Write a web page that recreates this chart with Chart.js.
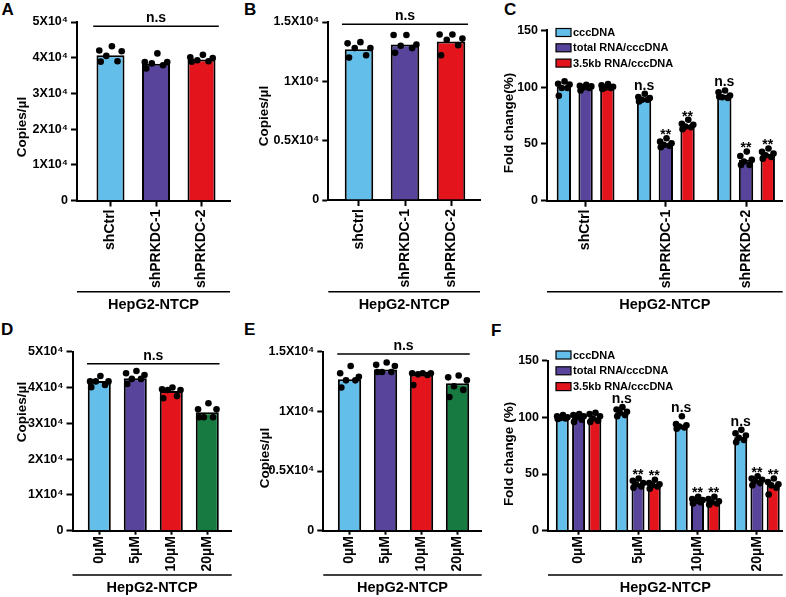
<!DOCTYPE html>
<html>
<head>
<meta charset="utf-8">
<title>HepG2-NTCP</title>
<script src="https://cdn.jsdelivr.net/npm/chart.js@4.4.1/dist/chart.umd.min.js"></script>
<style>
html,body{margin:0;padding:0;background:#fff;}
#fig{position:relative;width:786px;height:597px;overflow:hidden;background:#fff;}
#fig canvas{position:absolute;}
.pl{position:absolute;font:bold 17px "Liberation Sans",Arial,sans-serif;line-height:17px;color:#000;}
</style>
</head>
<body>
<div id="fig">
  <div class="pl" style="left:1.5px;top:1px">A</div>
  <div class="pl" style="left:244px;top:1px">B</div>
  <div class="pl" style="left:504px;top:1px">C</div>
  <div class="pl" style="left:1px;top:321px">D</div>
  <div class="pl" style="left:244px;top:321px">E</div>
  <div class="pl" style="left:491px;top:322px">F</div>
</div>
<script>
// ---------------- data ----------------
const catsKnockdown = ['shCtrl', 'shPRKDC-1', 'shPRKDC-2'];
const catsDose = ['0µM', '5µM', '10µM', '20µM'];
const seriesNames = ['cccDNA', 'total RNA/cccDNA', '3.5kb RNA/cccDNA'];
const groupName = 'HepG2-NTCP';
const copiesTitle = 'Copies/µl';

const yTickVals50k = [0, 10000, 20000, 30000, 40000, 50000];
const yTickLbl50k = ['0', '1X10⁴', '2X10⁴', '3X10⁴', '4X10⁴', '5X10⁴'];
const yTickVals15k = [0, 5000, 10000, 15000];
const yTickLbl15k = ['0', '0.5X10⁴', '1X10⁴', '1.5X10⁴'];
const yTickValsFold = [0, 50, 100, 150];
const yTickLblFold = ['0', '50', '100', '150'];

// Panel A (copies/µl, knockdown)
const barsA = [40700, 38300, 39500];
const dotsA = [
  [43200, 42000, 41800, 40500, 39000, 38900],
  [41200, 38800, 38800, 38400, 37900, 37000],
  [40800, 40100, 39900, 39300, 39000, 38900]
];
// Panel B
const barsB = [12700, 13100, 13350];
const dotsB = [
  [13300, 13200, 12800, 12800, 12200, 12000],
  [13900, 13900, 13100, 13000, 12800, 12400],
  [13950, 13950, 13600, 13500, 13050, 12200]
];
// Panel C (fold change, knockdown)
const cccC = [100.5, 89.8, 93.2];
const totalC = [100, 50.6, 36];
const rna35C = [100.2, 66.7, 41];
const cccDotsC = [
  [105, 103, 102.2, 99.2, 99.2, 92.4],
  [94.1, 91.2, 90.3, 88.8, 88.8, 87.4],
  [97, 95.5, 92.5, 91, 90.5, 91.5]
];
const totalDotsC = [
  [102, 101.2, 100.6, 99.7, 99.2, 97],
  [55, 52, 50.6, 49.1, 48.3, 47.1],
  [43.2, 39.4, 35.9, 34.4, 31.5, 31.5]
];
const rna35DotsC = [
  [102.6, 101.5, 100.3, 99.5, 99.2, 98.3],
  [71.2, 67.7, 66.8, 65.3, 64.7, 63],
  [46, 43, 41.5, 40, 38.5, 37]
];
const sigC = [['', '', ''], ['n.s', '**', '**'], ['n.s', '**', '**']];

// Panel D (copies/µl, dose)
const barsD = [41800, 42600, 39000, 33100];
const dotsD = [
  [43200, 41700, 41700, 41700, 40700, 40100],
  [44600, 44000, 43500, 42400, 42400, 41000],
  [40000, 39500, 39300, 39300, 37600, 37000],
  [35600, 33900, 33900, 31700, 31700, 31700]
];
// Panel E
const barsE = [12700, 13500, 13100, 12350];
const dotsE = [
  [13800, 13200, 12900, 12600, 12600, 12000],
  [14100, 13900, 13800, 13300, 13300, 13300],
  [13200, 13200, 13200, 13100, 13050, 12200],
  [13000, 12850, 12600, 12100, 11800, 11200]
];
// Panel F (fold change, dose)
const cccF = [100, 104, 92.4, 82.4];
const totalF = [100.5, 41.8, 26.5, 44.2];
const rna35F = [100, 40.5, 25.8, 40.3];
const cccDotsF = [
  [102, 101, 100, 99.5, 99, 98.5],
  [109, 107, 105, 104, 102, 101],
  [101, 94, 93, 92, 91, 90],
  [89, 86, 84, 82, 80, 78]
];
const totalDotsF = [
  [103, 102, 101, 100, 98, 96],
  [46, 44, 42, 41, 39, 38],
  [30, 28, 27, 26, 25, 24],
  [48, 46, 45, 44, 42, 40]
];
const rna35DotsF = [
  [104, 103, 101, 99, 97, 96],
  [45, 42, 41, 40, 39, 37],
  [30, 28, 26, 25, 24, 23],
  [46, 43, 41, 40, 38, 32]
];
const sigF = [['', '', ''], ['n.s', '**', '**'], ['n.s', '**', '**'], ['n.s', '**', '**']];

// ---------------- styling ----------------
const FONT = '"Liberation Sans", Arial, Helvetica, sans-serif';
Chart.defaults.font.family = FONT;
Chart.defaults.color = '#000';
const C_BLUE = '#63BEEA', C_PURPLE = '#58449A', C_RED = '#E3141C', C_GREEN = '#177A40';
const JITTER = [0.05, -0.4, 0.4, -0.15, 0.25, -0.35];
const fig = document.getElementById('fig');

function axisStyle(len) {
  return {
    grid: {display: true, drawOnChartArea: false, drawTicks: true, tickLength: len, tickWidth: 2, tickColor: '#000', offset: false},
    border: {display: true, color: '#000', width: 2}
  };
}

function makePanel(o) {
  const cv = document.createElement('canvas');
  cv.width = o.w; cv.height = o.h;
  cv.style.left = o.x + 'px'; cv.style.top = o.y + 'px';
  cv.style.width = o.w + 'px'; cv.style.height = o.h + 'px';
  fig.appendChild(cv);
  const L = o.area.l - o.x, T = o.area.t - o.y, R = o.area.r - o.x, B = o.area.b - o.y;
  const nS = o.series.length;
  const slot = o.cp / nS;
  const barW = slot * o.bp;
  const offsetOf = si => (si - (nS - 1) / 2) * slot;
  const datasets = [];
  o.series.forEach((s, si) => {
    const pts = [];
    s.dots.forEach((arr, ci) => arr.forEach((v, k) => pts.push({x: ci + offsetOf(si) + JITTER[k % JITTER.length] * barW, y: v})));
    datasets.push({type: 'scatter', label: s.label + ' points', data: pts, order: 0,
      pointRadius: 3.3, pointHoverRadius: 3.3, pointBackgroundColor: '#000', pointBorderWidth: 0,
      backgroundColor: '#000', borderColor: '#000', borderWidth: 0, clip: false});
  });
  o.series.forEach((s, si) => {
    datasets.push({type: 'bar', label: s.label, data: s.bars.map((v, i) => ({x: i, y: v})),
      backgroundColor: s.color, borderColor: '#000', borderWidth: 2, borderSkipped: 'start',
      order: 1, categoryPercentage: o.cp, barPercentage: o.bp});
  });
  const decor = {
    id: 'decor',
    afterDatasetsDraw(chart) {
      const ctx = chart.ctx, xs = chart.scales.x, ys = chart.scales.y, ca = chart.chartArea;
      ctx.save();
      ctx.fillStyle = '#000'; ctx.strokeStyle = '#000';
      // y axis title
      ctx.save();
      ctx.translate(o.yTitle.cx - o.x, o.yTitle.cy - o.y);
      ctx.rotate(-Math.PI / 2);
      ctx.font = 'bold 13.5px ' + FONT;
      ctx.textAlign = 'center'; ctx.textBaseline = 'middle';
      ctx.fillText(o.yTitle.text, 0, 0);
      ctx.restore();
      // group line + label
      ctx.lineWidth = 1.5;
      ctx.beginPath();
      ctx.moveTo(ca.left, o.groupLineY - o.y); ctx.lineTo(ca.right, o.groupLineY - o.y);
      ctx.stroke();
      ctx.font = 'bold 14.5px ' + FONT;
      ctx.textAlign = 'center'; ctx.textBaseline = 'middle';
      ctx.fillText(groupName, (ca.left + ca.right) / 2, o.groupTextY - o.y);
      // overall bracket
      if (o.bracket) {
        const yy = ys.getPixelForValue(o.bracket.level);
        const x1 = xs.getPixelForValue(-o.bracket.ext);
        const x2 = xs.getPixelForValue(o.cats.length - 1 + o.bracket.ext);
        ctx.lineWidth = 1.5;
        ctx.beginPath(); ctx.moveTo(x1, yy); ctx.lineTo(x2, yy); ctx.stroke();
        ctx.font = 'bold 14px ' + FONT; ctx.textBaseline = 'alphabetic'; ctx.textAlign = 'center';
        ctx.fillText(o.bracket.text, (x1 + x2) / 2, yy - 4);
      }
      // per-bar significance
      if (o.sig) {
        ctx.font = 'bold 14px ' + FONT; ctx.textBaseline = 'alphabetic'; ctx.textAlign = 'center';
        o.sig.forEach((row, ci) => row.forEach((txt, si) => {
          if (!txt) return;
          const px = xs.getPixelForValue(ci + offsetOf(si));
          const top = ys.getPixelForValue(Math.max(...o.series[si].dots[ci])) - 3.3;
          ctx.fillText(txt, px, txt === '**' ? top + 4 : top - 1);
        }));
      }
      // legend
      if (o.legend) {
        ctx.font = 'bold 11px ' + FONT; ctx.textAlign = 'left'; ctx.textBaseline = 'middle';
        o.series.forEach((s, si) => {
          const cy = o.legend.y - o.y + si * o.legend.dy;
          const bx = o.legend.x - o.x;
          ctx.fillStyle = s.color; ctx.fillRect(bx, cy - 4, 15, 8);
          ctx.lineWidth = 1.2; ctx.strokeStyle = '#000'; ctx.strokeRect(bx, cy - 4, 15, 8);
          ctx.fillStyle = '#000'; ctx.fillText(s.label, bx + 17, cy + 0.5);
        });
      }
      ctx.restore();
    }
  };
  const xAxis = Object.assign({
    type: 'linear', position: 'bottom', min: o.xMin, max: o.xMax, offset: false, z: 1,
    afterBuildTicks: s => { s.ticks = o.cats.map((c, i) => ({value: i})); },
    afterFit: s => { s.height = o.h - B; },
    ticks: {autoSkip: false, minRotation: 90, maxRotation: 90, padding: o.xPad, color: '#000',
      font: {family: FONT, size: 14, weight: 'bold'}, callback: v => o.cats[v]}
  }, axisStyle(o.xTick));
  const yAxis = Object.assign({
    type: 'linear', position: 'left', min: 0, max: o.yVals[o.yVals.length - 1], z: 1,
    afterBuildTicks: s => { s.ticks = o.yVals.map(v => ({value: v})); },
    afterFit: s => { s.width = L; },
    ticks: {padding: 3, color: '#000', font: {family: FONT, size: 12.5, weight: 'bold'},
      callback: (v, i) => o.yLbls[i]}
  }, axisStyle(6));
  new Chart(cv, {
    type: 'bar',
    data: {datasets},
    options: {
      responsive: false, animation: false, devicePixelRatio: 1, events: [],
      layout: {padding: {left: 0, top: T, right: o.w - R, bottom: 0}},
      plugins: {legend: {display: false}, tooltip: {enabled: false}},
      scales: {x: xAxis, y: yAxis}
    },
    plugins: [decor]
  });
}

// ---------------- panels ----------------
makePanel({x: 0, y: 0, w: 250, h: 320, area: {l: 77, t: 22, r: 230, b: 200.5},
  xMin: -0.736, xMax: 2.626, cp: 0.8, bp: 0.77, cats: catsKnockdown, xTick: 6, xPad: 3,
  yVals: yTickVals50k, yLbls: yTickLbl50k,
  series: [{label: copiesTitle, color: [C_BLUE, C_PURPLE, C_RED], bars: barsA, dots: dotsA}],
  yTitle: {text: copiesTitle, cx: 22, cy: 127}, groupLineY: 291.7, groupTextY: 305,
  bracket: {level: 48800, ext: 0.38, text: 'n.s'}});

makePanel({x: 250, y: 0, w: 245, h: 320, area: {l: 328.3, t: 22, r: 480, b: 200},
  xMin: -0.667, xMax: 2.63, cp: 0.8, bp: 0.775, cats: catsKnockdown, xTick: 6, xPad: 3,
  yVals: yTickVals15k, yLbls: yTickLbl15k,
  series: [{label: copiesTitle, color: [C_BLUE, C_PURPLE, C_RED], bars: barsB, dots: dotsB}],
  yTitle: {text: copiesTitle, cx: 264.5, cy: 116}, groupLineY: 291.7, groupTextY: 305,
  bracket: {level: 14800, ext: 0.37, text: 'n.s'}});

makePanel({x: 495, y: 0, w: 291, h: 320, area: {l: 547, t: 30.3, r: 785, b: 200.7},
  xMin: -0.481, xMax: 2.457, cp: 0.813, bp: 0.66, cats: catsKnockdown, xTick: 6, xPad: 3,
  yVals: yTickValsFold, yLbls: yTickLblFold,
  series: [
    {label: seriesNames[0], color: C_BLUE, bars: cccC, dots: cccDotsC},
    {label: seriesNames[1], color: C_PURPLE, bars: totalC, dots: totalDotsC},
    {label: seriesNames[2], color: C_RED, bars: rna35C, dots: rna35DotsC}
  ],
  yTitle: {text: 'Fold change(%)', cx: 509, cy: 123}, groupLineY: 291.7, groupTextY: 305,
  sig: sigC, legend: {x: 556, y: 32.5, dy: 15.3}});

makePanel({x: 0, y: 320, w: 250, h: 277, area: {l: 72.5, t: 351.7, r: 231.7, b: 530.7},
  xMin: -0.744, xMax: 3.678, cp: 0.8, bp: 0.8, cats: catsDose, xTick: 4, xPad: 1.5,
  yVals: yTickVals50k, yLbls: yTickLbl50k,
  series: [{label: copiesTitle, color: [C_BLUE, C_PURPLE, C_RED, C_GREEN], bars: barsD, dots: dotsD}],
  yTitle: {text: copiesTitle, cx: 22, cy: 412}, groupLineY: 575, groupTextY: 587.5,
  bracket: {level: 46600, ext: 0.34, text: 'n.s'}});

makePanel({x: 250, y: 320, w: 245, h: 277, area: {l: 323.3, t: 351.7, r: 481.7, b: 530.7},
  xMin: -0.728, xMax: 3.672, cp: 0.8, bp: 0.81, cats: catsDose, xTick: 4, xPad: 1.5,
  yVals: yTickVals15k, yLbls: yTickLbl15k,
  series: [{label: copiesTitle, color: [C_BLUE, C_PURPLE, C_RED, C_GREEN], bars: barsE, dots: dotsE}],
  yTitle: {text: copiesTitle, cx: 265, cy: 458}, groupLineY: 575, groupTextY: 587.5,
  bracket: {level: 14800, ext: 0.34, text: 'n.s'}});

makePanel({x: 495, y: 320, w: 291, h: 277, area: {l: 548, t: 360.7, r: 786, b: 530.7},
  xMin: -0.514, xMax: 3.433, cp: 0.82, bp: 0.8, cats: catsDose, xTick: 4, xPad: 1.5,
  yVals: yTickValsFold, yLbls: yTickLblFold,
  series: [
    {label: seriesNames[0], color: C_BLUE, bars: cccF, dots: cccDotsF},
    {label: seriesNames[1], color: C_PURPLE, bars: totalF, dots: totalDotsF},
    {label: seriesNames[2], color: C_RED, bars: rna35F, dots: rna35DotsF}
  ],
  yTitle: {text: 'Fold change (%)', cx: 509, cy: 454}, groupLineY: 575, groupTextY: 587.5,
  sig: sigF, legend: {x: 556, y: 355, dy: 15.8}});
</script>
</body>
</html>
